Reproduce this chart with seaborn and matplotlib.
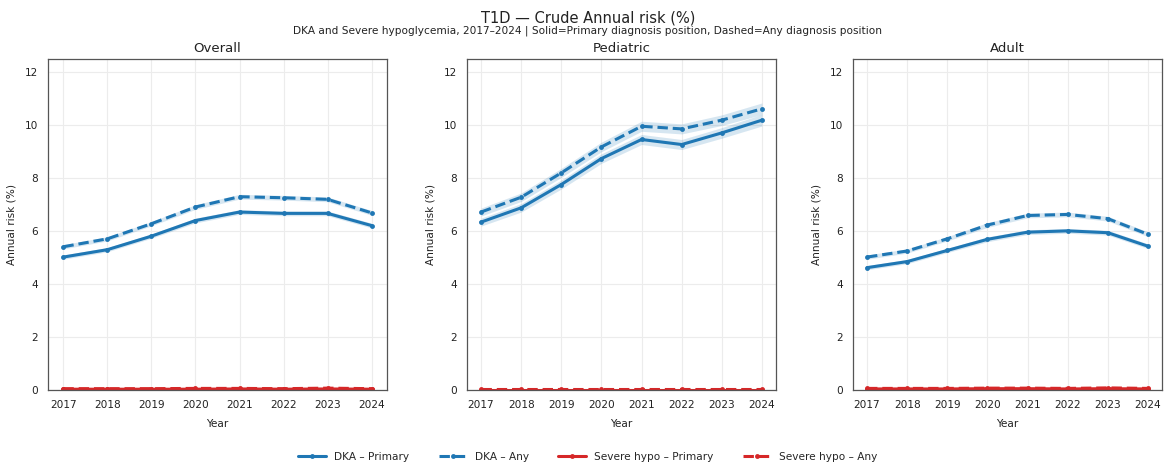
import matplotlib
matplotlib.use("Agg")
import matplotlib.pyplot as plt
import seaborn as sns
import pandas as pd
import numpy as np
from matplotlib.lines import Line2D

years = [2017, 2018, 2019, 2020, 2021, 2022, 2023, 2024]
panels = ["Overall", "Pediatric", "Adult"]

overall_dka_primary = [5.02, 5.30, 5.81, 6.40, 6.72, 6.67, 6.67, 6.21]
overall_dka_any = [5.41, 5.71, 6.28, 6.91, 7.30, 7.26, 7.20, 6.69]
overall_hypo_primary = [0.03, 0.03, 0.03, 0.03, 0.04, 0.03, 0.04, 0.03]
overall_hypo_any = [0.05, 0.05, 0.05, 0.06, 0.06, 0.05, 0.07, 0.05]

pediatric_dka_primary = [6.34, 6.88, 7.76, 8.74, 9.46, 9.27, 9.71, 10.19]
pediatric_dka_any = [6.72, 7.28, 8.20, 9.18, 9.96, 9.86, 10.19, 10.62]
pediatric_hypo_primary = [0.01, 0.01, 0.01, 0.01, 0.01, 0.01, 0.01, 0.01]
pediatric_hypo_any = [0.02, 0.02, 0.02, 0.02, 0.02, 0.02, 0.02, 0.02]

adult_dka_primary = [4.62, 4.85, 5.27, 5.69, 5.96, 6.01, 5.94, 5.43]
adult_dka_any = [5.02, 5.25, 5.71, 6.23, 6.59, 6.63, 6.47, 5.88]
adult_hypo_primary = [0.04, 0.04, 0.04, 0.05, 0.05, 0.04, 0.05, 0.04]
adult_hypo_any = [0.06, 0.06, 0.06, 0.07, 0.07, 0.06, 0.08, 0.06]

# 95% CI half-widths (approximate, read from shaded bands)
overall_ci = [0.08, 0.08, 0.08, 0.09, 0.09, 0.09, 0.09, 0.09]
pediatric_ci = [0.15, 0.16, 0.17, 0.18, 0.19, 0.19, 0.20, 0.22]
adult_ci = [0.08, 0.08, 0.08, 0.09, 0.09, 0.09, 0.09, 0.09]

series_labels = ["DKA – Primary", "DKA – Any", "Severe hypo – Primary", "Severe hypo – Any"]

data = {
    "Overall": [overall_dka_primary, overall_dka_any, overall_hypo_primary, overall_hypo_any],
    "Pediatric": [pediatric_dka_primary, pediatric_dka_any, pediatric_hypo_primary, pediatric_hypo_any],
    "Adult": [adult_dka_primary, adult_dka_any, adult_hypo_primary, adult_hypo_any],
}
cis = {"Overall": overall_ci, "Pediatric": pediatric_ci, "Adult": adult_ci}

rows = []
for p in panels:
    for lab, vals in zip(series_labels, data[p]):
        for y, v in zip(years, vals):
            rows.append({"panel": p, "series": lab, "year": y, "risk": v})
df = pd.DataFrame(rows)

sns.set_style("white")
plt.rcParams["font.family"] = ["DejaVu Sans"]

BLUE = "#1f77b4"
RED = "#d62728"
palette = {"DKA – Primary": BLUE, "DKA – Any": BLUE,
           "Severe hypo – Primary": RED, "Severe hypo – Any": RED}
dashes = {"DKA – Primary": "", "DKA – Any": (3.4, 1.6),
          "Severe hypo – Primary": "", "Severe hypo – Any": (3.4, 1.6)}

fig = plt.figure(figsize=(11.64, 4.67), dpi=100)
positions = [
    [48 / 1164, 1 - 390 / 467, 339 / 1164, 331 / 467],
    [467 / 1164, 1 - 390 / 467, 309 / 1164, 331 / 467],
    [853 / 1164, 1 - 390 / 467, 309 / 1164, 331 / 467],
]

for i, p in enumerate(panels):
    ax = fig.add_axes(positions[i])
    sub = df[df.panel == p]
    ci = np.array(cis[p])
    for k in (0, 1):
        vals = np.array(data[p][k])
        ax.fill_between(years, vals - ci, vals + ci, color=BLUE, alpha=0.18, linewidth=0)
    sns.lineplot(data=sub, x="year", y="risk", hue="series", style="series",
                 palette=palette, dashes=dashes, markers={s: "o" for s in series_labels},
                 markersize=3.5, markeredgewidth=0, linewidth=2.2, ax=ax, legend=False,
                 hue_order=series_labels, style_order=series_labels)
    ax.set_ylim(0, 12.5)
    ax.set_xticks(years)
    ax.set_yticks([0, 2, 4, 6, 8, 10, 12])
    ax.tick_params(axis="both", labelsize=7.6, length=3.5, width=0.8, colors="#333333",
                   labelcolor="#222222")
    ax.grid(True, color="#ececec", linewidth=0.8)
    for s in ax.spines.values():
        s.set_color("#555555")
        s.set_linewidth(0.9)
    ax.set_title(p, fontsize=9.5, color="#222222", pad=5)
    ax.set_xlabel("Year", fontsize=7.6, color="#222222", labelpad=7)
    ax.set_ylabel("Annual risk (%)", fontsize=7.6, color="#222222", labelpad=6)

fig.text(0.505, 0.977, "T1D — Crude Annual risk (%)", ha="center", va="top",
         fontsize=10.5, color="#222222")
fig.text(0.505, 0.945, "DKA and Severe hypoglycemia, 2017–2024 | Solid=Primary diagnosis position, Dashed=Any diagnosis position",
         ha="center", va="top", fontsize=7.6, color="#222222")

handles = []
for lab in series_labels:
    handles.append(Line2D([], [], color=palette[lab], linewidth=2.2, marker="o", markersize=3.5,
                          markeredgewidth=0,
                          linestyle="-" if dashes[lab] == "" else (0, dashes[lab])))
fig.legend(handles, series_labels, loc="center", bbox_to_anchor=(0.505, 0.022), ncol=4,
           frameon=False, fontsize=7.6, columnspacing=2.8, handlelength=2.6, handletextpad=0.8)

fig.savefig("out.png", dpi=100, facecolor="white")
